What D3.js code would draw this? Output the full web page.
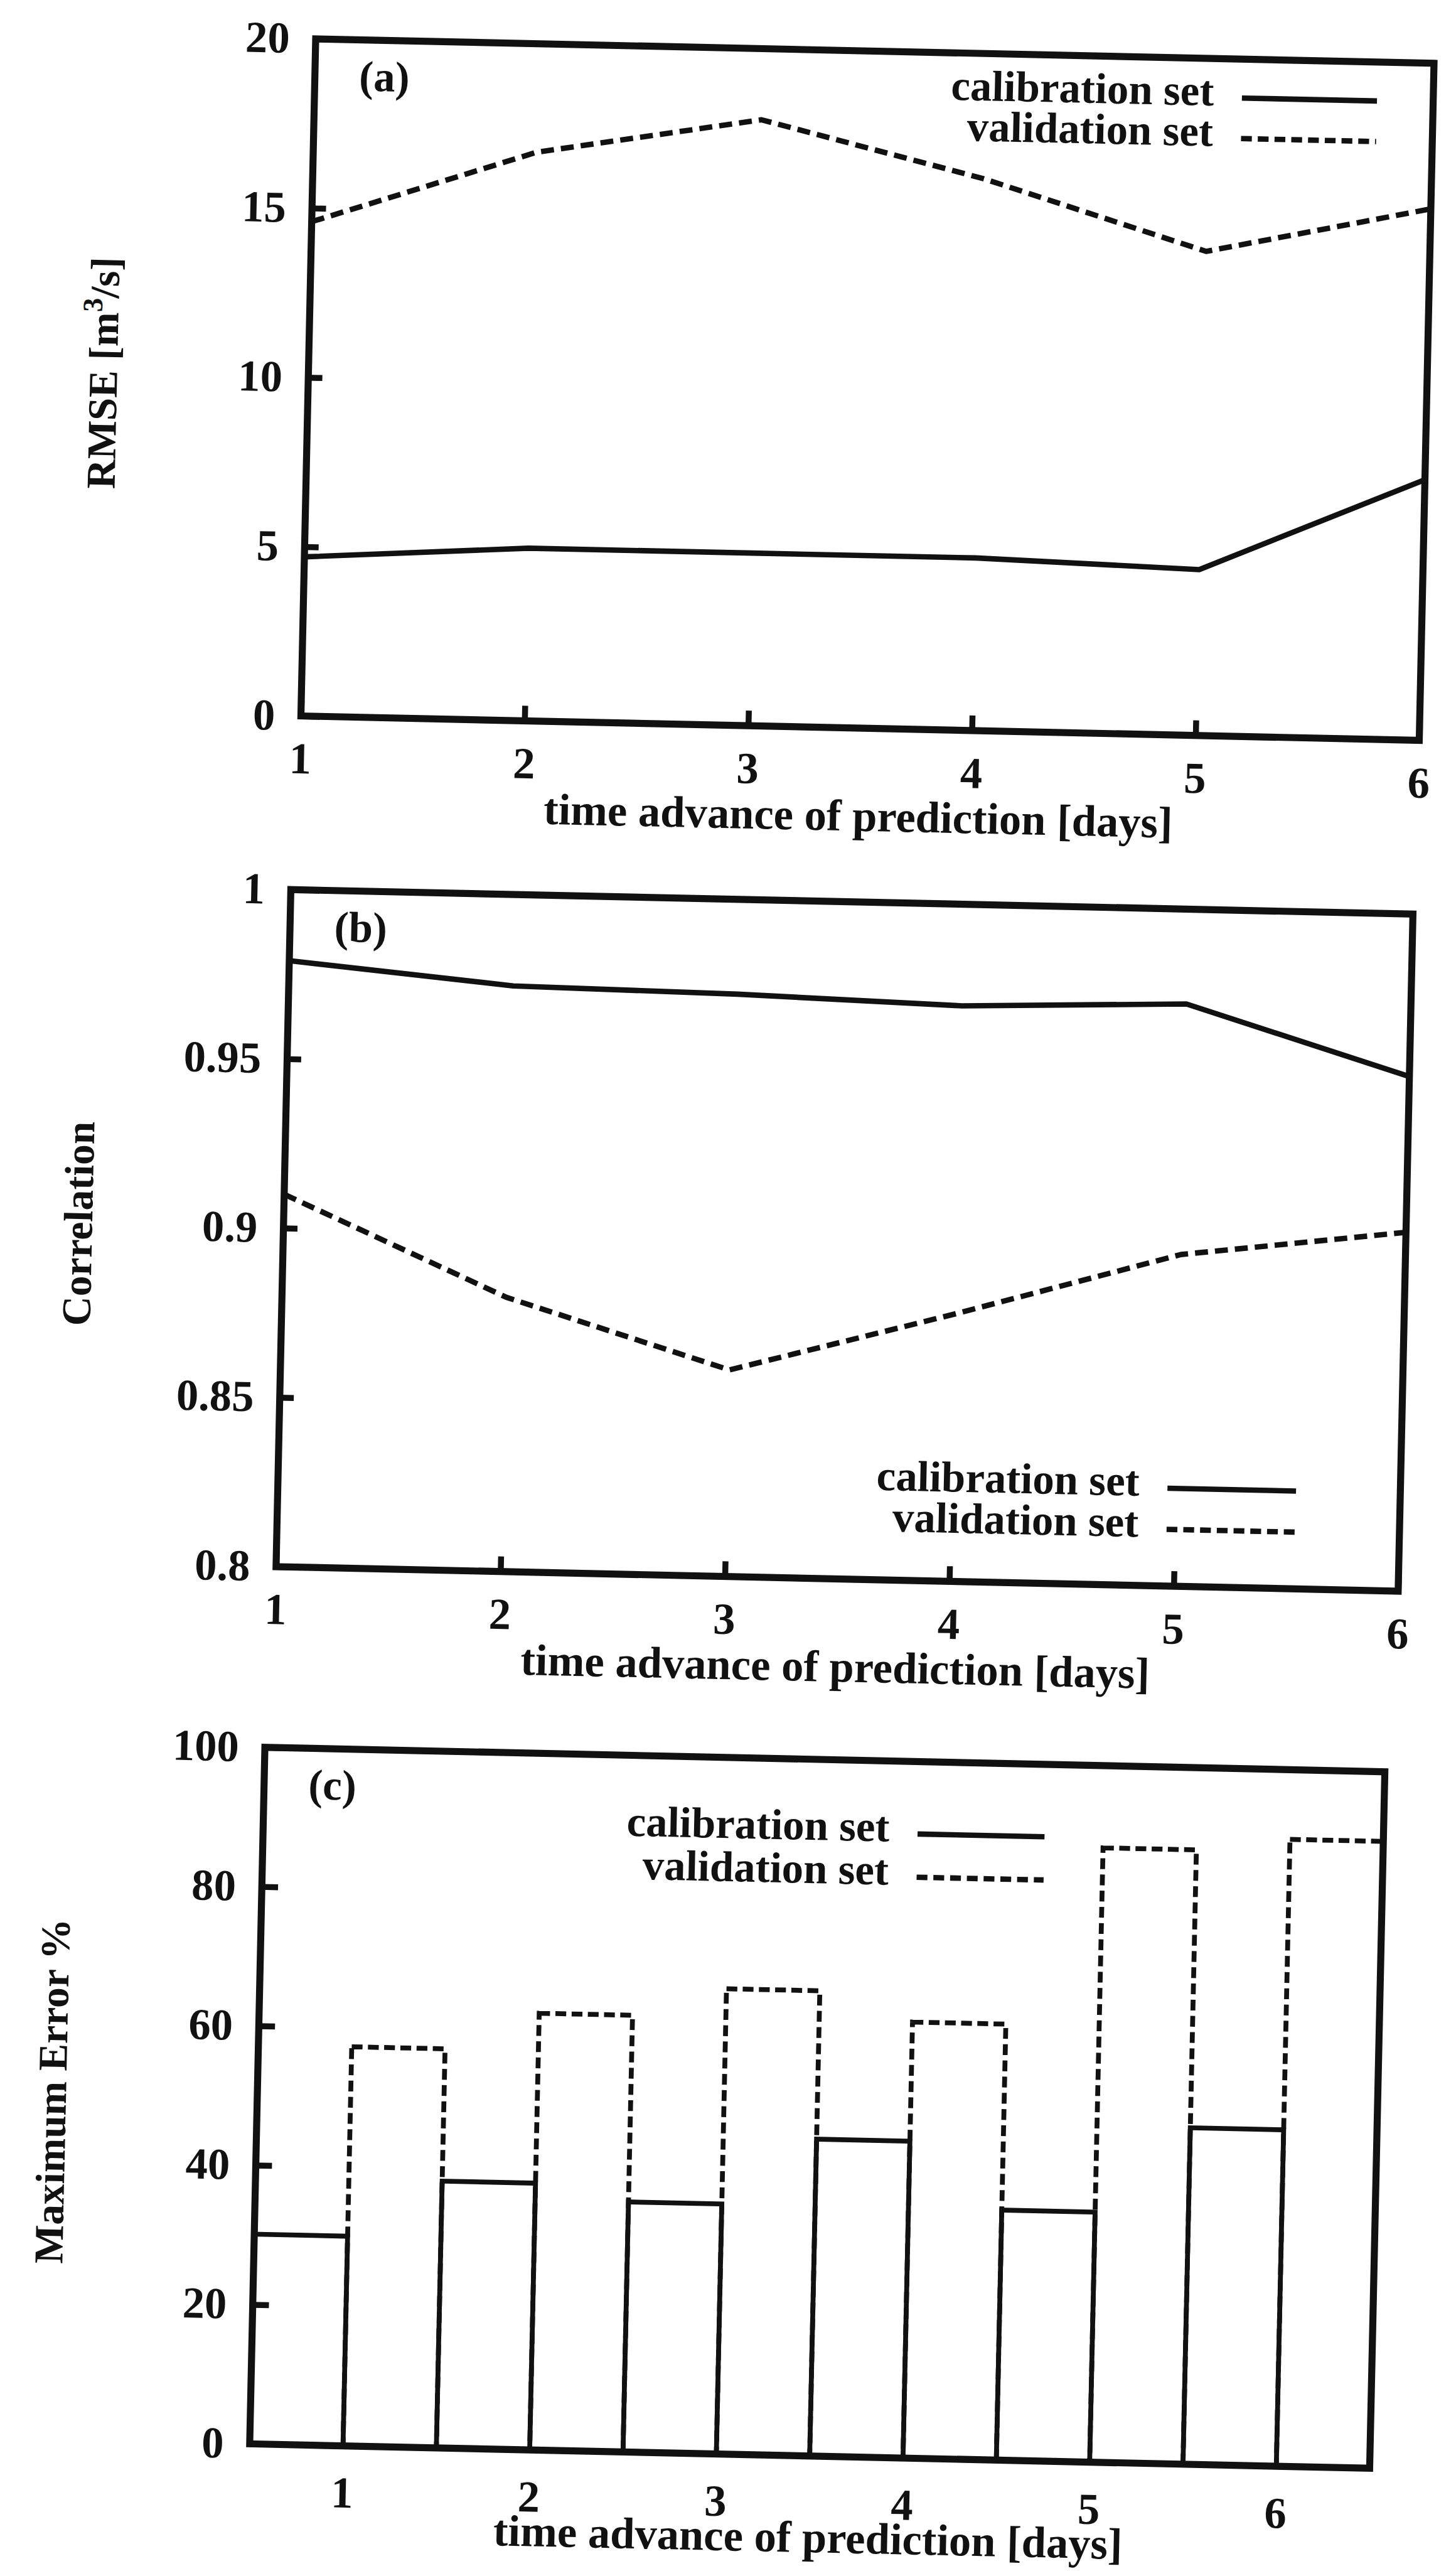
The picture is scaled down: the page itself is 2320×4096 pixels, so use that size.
<!DOCTYPE html>
<html lang="en">
<head>
<meta charset="UTF-8">
<title>RMSE, correlation and maximum error vs time advance of prediction</title>
<script src="https://d3js.org/d3.v7.min.js"></script>
<style>
    body { margin: 0; background: #fff; }
    svg { display: block; }
    text {
        font-family: 'Liberation Serif', 'Times New Roman', serif;
        font-weight: bold;
        fill: #111;
    }
</style>
</head>
<body>
<svg id="chart"></svg>
<script>
// values
const days = [1, 2, 3, 4, 5, 6];
const seriesNames = ["calibration set", "validation set"];

const rmseCalibration = [4.7, 5.1, 5.1, 5.1, 4.9, 7.7];
const rmseValidation = [14.6, 16.8, 17.9, 16.3, 14.3, 15.7];

const corrCalibration = [0.979, 0.973, 0.972, 0.970, 0.972, 0.952];
const corrValidation = [0.910, 0.881, 0.861, 0.879, 0.898, 0.906];

const maxErrCalibration = [30.1, 38.3, 35.9, 45.5, 35.9, 48.3];
const maxErrValidation = [57.3, 62.7, 66.8, 62.6, 88.2, 90.0];

const rmseTicks = [0, 5, 10, 15, 20];
const corrTicks = [0.8, 0.85, 0.9, 0.95, 1];
const maxErrTicks = [0, 20, 40, 60, 80, 100];

// drawing is done in the reference's pixel space and scaled by the viewBox
const W = 2694, H = 4757;
const ink = "#111";
const tilt = 1.25;   // the scanned page is slightly rotated

const svg = d3.select("#chart")
    .attr("width", 2320)
    .attr("height", 4096)
    .attr("viewBox", `0 0 ${W} ${H}`);

svg.append("rect").attr("width", W).attr("height", H).attr("fill", "#fff");

const fmt = d => String(+d.toFixed(2));

function styleAxis(sel, size) {
    sel.select(".domain").remove();
    sel.selectAll("line").attr("stroke", ink).attr("stroke-width", 11);
    sel.selectAll("text").attr("font-size", size);
}

function panelFrame(p) {
    const g = svg.append("g")
        .attr("transform", `translate(${p.x},${p.y}) rotate(${tilt})`);

    // panel letter
    g.append("text")
        .attr("x", 82).attr("y", 94)
        .attr("font-size", 80)
        .text(p.letter);

    // x title
    g.append("text")
        .attr("x", p.w / 2).attr("y", p.h + p.titleGap)
        .attr("text-anchor", "middle")
        .attr("font-size", 82)
        .text("time advance of prediction [days]");

    // y title
    const yt = g.append("text")
        .attr("transform", `translate(-354,${p.h / 2}) rotate(-90)`)
        .attr("text-anchor", "middle")
        .attr("font-size", 76);
    p.ytitle(yt);

    return g;
}

function legend(g, lg) {
    seriesNames.forEach((name, i) => {
        const by = lg.y + i * lg.gap;
        g.append("text")
            .attr("x", lg.x).attr("y", by)
            .attr("text-anchor", "end")
            .attr("font-size", 80)
            .text(name);
        g.append("line")
            .attr("x1", lg.x + 52).attr("x2", lg.x + lg.len + 52)
            .attr("y1", by - 15).attr("y2", by - 15)
            .attr("stroke", ink)
            .attr("stroke-width", 10)
            .attr("stroke-dasharray", i === 1 ? "20,11" : null);
    });
}

function linePanel(p) {
    const g = panelFrame(p);

    const x = d3.scaleLinear().domain([1, 6]).range([0, p.w]);
    const y = d3.scaleLinear().domain(p.domain).range([p.h, 0]);

    g.append("g")
        .call(d3.axisLeft(y).tickValues(p.ticks).tickSize(-26).tickPadding(48).tickFormat(fmt))
        .call(styleAxis, 82);

    g.append("g")
        .attr("transform", `translate(0,${p.h})`)
        .call(d3.axisBottom(x).tickValues(days).tickSize(-28).tickPadding(48).tickFormat(fmt))
        .call(styleAxis, 82);

    const line = d3.line().x(d => x(d[0])).y(d => y(d[1]));
    [p.cal, p.val].forEach((vals, i) => {
        g.append("path")
            .datum(days.map((d, k) => [d, vals[k]]))
            .attr("d", line)
            .attr("fill", "none")
            .attr("stroke", ink)
            .attr("stroke-width", 10)
            .attr("stroke-linejoin", "round")
            .attr("stroke-dasharray", i === 1 ? "24,13" : null);
    });

    g.append("rect")
        .attr("width", p.w).attr("height", p.h)
        .attr("fill", "none").attr("stroke", ink).attr("stroke-width", 13);

    legend(g, p.legend);
}

function barPanel(p) {
    const g = panelFrame(p);

    const x0 = d3.scaleBand().domain(days).range([0, p.w]);
    const x1 = d3.scaleBand().domain(seriesNames).range([0, x0.bandwidth()]);
    const y = d3.scaleLinear().domain(p.domain).range([p.h, 0]);

    g.append("g")
        .call(d3.axisLeft(y).tickValues(p.ticks).tickSize(-30).tickPadding(48).tickFormat(fmt))
        .call(styleAxis, 82);

    g.append("g")
        .attr("transform", `translate(0,${p.h})`)
        .call(d3.axisBottom(x0).tickSize(0).tickPadding(56))
        .call(styleAxis, 82);

    // validation bars first so the solid calibration edges sit on top
    [[p.val, seriesNames[1], "20,10"], [p.cal, seriesNames[0], null]].forEach(([vals, name, dash]) => {
        g.append("g").selectAll("rect")
            .data(days.map((d, k) => ({ day: d, v: vals[k] })))
            .join("rect")
            .attr("x", d => x0(d.day) + x1(name))
            .attr("width", x1.bandwidth())
            .attr("y", d => y(d.v))
            .attr("height", d => p.h - y(d.v))
            .attr("fill", "none")
            .attr("stroke", ink)
            .attr("stroke-width", 9)
            .attr("stroke-dasharray", dash);
    });

    g.append("rect")
        .attr("width", p.w).attr("height", p.h)
        .attr("fill", "none").attr("stroke", ink).attr("stroke-width", 13);

    legend(g, p.legend);
}

linePanel({
    x: 584, y: 72, w: 2070, h: 1253, letter: "(a)", titleGap: 190,
    domain: [0, 20], ticks: rmseTicks,
    cal: rmseCalibration, val: rmseValidation,
    legend: { x: 1664, y: 87, gap: 75, len: 250 },
    ytitle: t => {
        t.append("tspan").text("RMSE [m");
        t.append("tspan").attr("font-size", 52).attr("dy", -30).text("3");
        t.append("tspan").attr("dy", 30).text("/s]");
    }
});

linePanel({
    x: 538, y: 1646, w: 2077, h: 1253, letter: "(b)", titleGap: 190,
    domain: [0.8, 1], ticks: corrTicks,
    cal: corrCalibration, val: corrValidation,
    legend: { x: 1594, y: 1087, gap: 76, len: 238 },
    ytitle: t => t.text("Correlation")
});

barPanel({
    x: 490, y: 3233, w: 2073, h: 1289, letter: "(c)", titleGap: 178,
    domain: [0, 100], ticks: maxErrTicks,
    cal: maxErrCalibration, val: maxErrValidation,
    legend: { x: 1159, y: 149, gap: 80, len: 235 },
    ytitle: t => t.text("Maximum Error %")
});
</script>
</body>
</html>
